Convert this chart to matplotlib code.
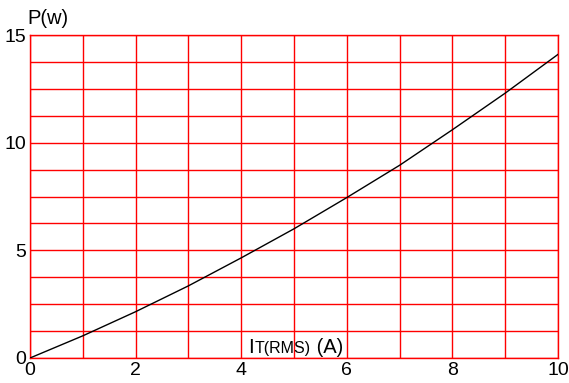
import numpy as np
import matplotlib
matplotlib.use('Agg')
import matplotlib.pyplot as plt

# values
current = [0, 1, 2, 3, 4, 5, 6, 7, 8, 9, 10]
power = [0, 1.03, 2.15, 3.35, 4.65, 6.0, 7.45, 8.95, 10.6, 12.3, 14.1]
x_ticks = [0, 2, 4, 6, 8, 10]
y_ticks = [0, 5, 10, 15]

plt.rcParams['font.family'] = ['Liberation Sans', 'DejaVu Sans']

W, H = 569, 383
fig = plt.figure(figsize=(W / 100, H / 100), dpi=100)
ax = fig.add_axes([30 / W, 25 / H, 528 / W, 323 / H])

ax.set_xlim(0, 10)
ax.set_ylim(0, 15)

# red grid: every 1 A and every 1.25 W
for xv in np.arange(0, 10.01, 1):
    ax.axvline(xv, color='red', lw=1, zorder=1)
for yv in np.arange(0, 15.01, 1.25):
    ax.axhline(yv, color='red', lw=1, zorder=1)
for s in ax.spines.values():
    s.set_color('red')
    s.set_linewidth(1)

ax.plot(current, power, color='black', lw=1, zorder=3)

ax.set_xticks(x_ticks)
ax.set_yticks(y_ticks)
ax.tick_params(length=0, labelsize=14, colors='black')
ax.tick_params(axis='x', pad=3)
ax.tick_params(axis='y', pad=3)

fig.text(27 / W, (H - 24) / H, 'P(w)', fontsize=14.5, ha='left', va='baseline')

# x label inside the plot: I + small T(RMS) + (A)
fig.canvas.draw()
r = fig.canvas.get_renderer()
base = (H - 353) / H
t1 = fig.text(248 / W, base, 'I', fontsize=15, va='baseline', ha='left')
bb = t1.get_window_extent(r)
t2 = fig.text(bb.x1 / W + 1 / W, base, 'T(RMS)', fontsize=11.5, va='baseline', ha='left')
bb = t2.get_window_extent(r)
fig.text(bb.x1 / W, base, ' (A)', fontsize=14.5, va='baseline', ha='left')

fig.savefig('out.png', dpi=100)
